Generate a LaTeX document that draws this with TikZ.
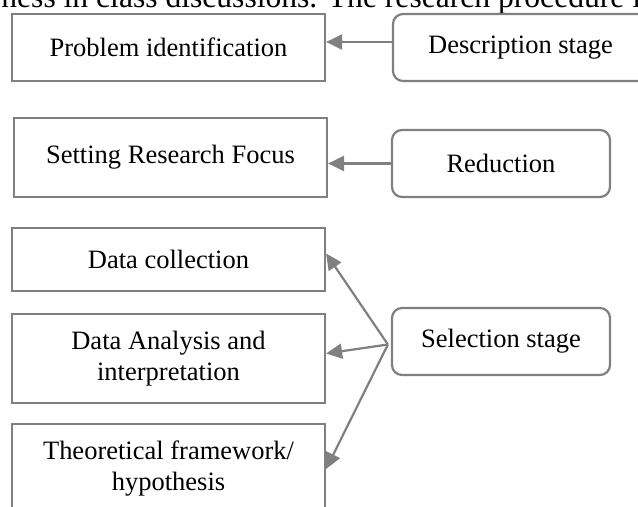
\documentclass[tikz,border=0pt]{standalone}
\usepackage{fontspec}
\setmainfont{Liberation Serif}
\usepackage{tikz}
\usetikzlibrary{arrows.meta,positioning}

\begin{document}
\begin{tikzpicture}[
      node distance=15pt and 33pt,
      box/.style={rectangle, draw=gray, line width=1.1pt, fill=white,
            minimum width=156.5pt, align=center,
            font=\fontsize{13.25pt}{15.5pt}\selectfont},
      stage/.style={rectangle, draw=gray, line width=1.1pt, fill=white,
            rounded corners=5pt, minimum height=33.5pt, align=center,
            font=\fontsize{13.25pt}{15.5pt}\selectfont},
      arrow/.style={-{Triangle[length=8pt, width=7.5pt]}, draw=gray, line width=1.1pt}
]
      \path[use as bounding box, clip] (0,0) rectangle (319pt,-253.5pt);

      % cut-off line of the running text above the figure
      \node[anchor=base west, inner sep=0pt, font=\fontsize{15.8pt}{18pt}\selectfont] (lead)
            at (0.5pt,-3.75pt) {ness in class discussions. The research procedure i};

      \node[box, minimum height=33.5pt] (problem) at (84.25pt,-23.75pt) {Problem identification};
      \node[box, minimum height=39.5pt, below=17.4pt of problem, xshift=1pt] (focus) {Setting Research Focus};
      \node[box, minimum height=31.5pt, below=14.4pt of focus, xshift=-1pt] (collect) {Data collection};
      \node[box, minimum height=44.5pt, below=10.4pt of collect] (analysis) {Data Analysis and\\interpretation};
      \node[box, minimum height=45pt, below=9.4pt of analysis] (theory) {Theoretical framework/\\hypothesis};

      \node[stage, minimum width=127.5pt, right=32.9pt of problem] (describe) {Description stage};
      \node[stage, minimum width=109pt, right=31.4pt of focus, yshift=-3pt] (reduce) {Reduction};
      \node[stage, minimum width=109pt, below right=7.4pt and 32.4pt of collect] (select) {Selection stage};

      \draw[arrow] ([yshift=2.75pt]describe.west) -- ([yshift=2.75pt]describe.west -| problem.east);
      \draw[arrow] (reduce.west) -- (reduce.west -| focus.east);
      \draw[arrow] ([xshift=-1.5pt,yshift=-1.5pt]select.west) -- ([yshift=3pt]collect.east);
      \draw[arrow] ([xshift=-1.5pt,yshift=-1.5pt]select.west) -- ([yshift=2.5pt]analysis.east);
      \draw[arrow] ([xshift=-1.5pt,yshift=-1.5pt]select.west) -- (theory.east);
\end{tikzpicture}
\end{document}
